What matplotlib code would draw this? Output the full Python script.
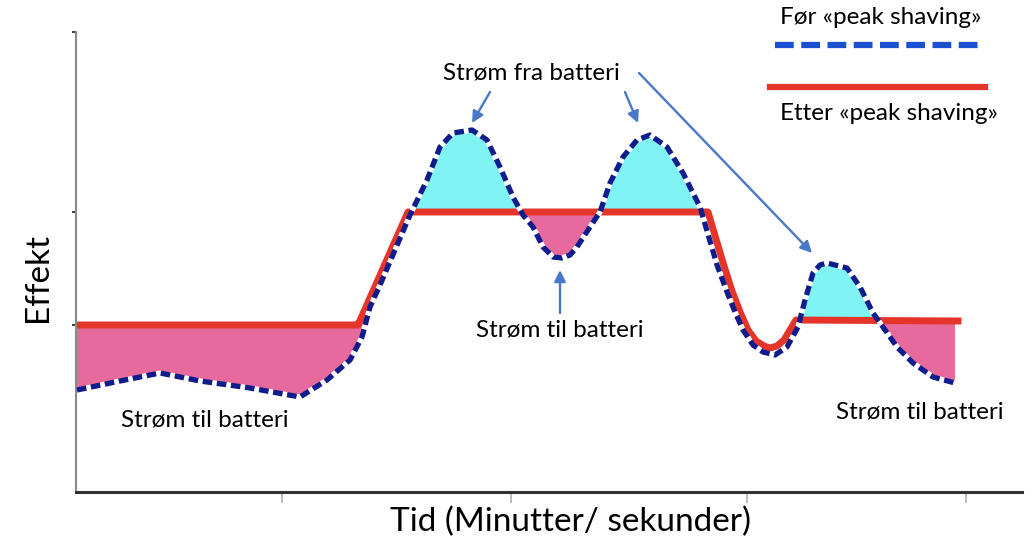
import numpy as np
import matplotlib
matplotlib.use("Agg")
import matplotlib.pyplot as plt
from matplotlib.lines import Line2D

plt.rcParams['font.family'] = ['Lato', 'DejaVu Sans']

# Effekt-kurver lest av bildet (x: tid, y: effekt, vilkaarlige enheter)
x_foer = [77, 120, 160, 200, 250, 300, 327, 350, 362, 370, 380, 395, 410, 427, 440, 453,
          472, 487, 500, 513, 523, 533, 543, 553, 562, 570, 577, 590, 600, 610, 623, 637,
          650, 667, 683, 700, 717, 727, 735, 743, 753, 763, 775, 787, 798, 805, 813, 820,
          827, 847, 860, 873, 883, 897, 913, 933, 955]
y_foer = [102, 111, 119, 111, 104, 95, 112, 132, 155, 185, 207, 242, 277, 312, 345, 359,
          362, 352, 325, 295, 277, 265, 245, 235, 234, 237, 245, 265, 280, 309, 335, 352,
          357, 345, 319, 285, 227, 200, 180, 162, 147, 140, 137, 145, 165, 192, 219, 227,
          229, 224, 205, 179, 165, 145, 129, 115, 109]

x_etter = [76, 358, 408, 708, 716, 724, 732, 740, 748, 756, 764, 770, 777, 784, 790, 796, 958]
y_etter = [167, 167, 280, 280, 253, 226, 201, 180, 162, 151, 146, 144, 146, 152, 162, 172, 171]

# perioder der batteriet lades (rosa felt)
lade_perioder = [(76, 366), (518, 600), (878, 960)]

x_ticks = [282, 511, 747, 966]
y_ticks = [167, 280, 460]

fig = plt.figure(figsize=(10.35, 5.41), dpi=100)
ax = fig.add_axes([76 / 1035, 49 / 541, (1022 - 76) / 1035, 460 / 541])
ax.set_xlim(76, 1022)
ax.set_ylim(0, 460)

xf = np.array(x_foer, dtype=float)
yf = np.array(y_foer, dtype=float)
ye = np.interp(xf, x_etter, y_etter)

lader = np.zeros_like(xf, dtype=bool)
for a, b in lade_perioder:
    lader |= (xf >= a) & (xf <= b)

ax.fill_between(xf, yf, ye, where=yf > ye, color='#80f4f4', interpolate=True, lw=0, zorder=1)
ax.fill_between(xf, yf, ye, where=(yf < ye) & lader, color='#e8699b', interpolate=True, lw=0, zorder=1)

ax.plot(x_etter, y_etter, color='#e5352a', lw=5, solid_joinstyle='round', zorder=2)
ax.plot(xf, yf, color='#0f1c8c', lw=3.8, linestyle=(0, (1.8, 0.9)), gapcolor='white',
        dash_capstyle='butt', zorder=3)

for s in ['top', 'right']:
    ax.spines[s].set_visible(False)
ax.spines['left'].set_color('#8a8a8a')
ax.spines['left'].set_linewidth(1.5)
ax.spines['bottom'].set_color('#333333')
ax.spines['bottom'].set_linewidth(2.2)
ax.set_xticks(x_ticks)
ax.set_yticks(y_ticks)
ax.set_xticklabels([])
ax.set_yticklabels([])
ax.tick_params(axis='x', length=8, width=1.2, color='#b0b0b0', direction='out')
ax.tick_params(axis='y', length=3, width=1.5, color='#444444', direction='out')

ax.set_xlabel('Tid (Minutter/ sekunder)', fontsize=24, va='center')
ax.xaxis.set_label_coords((570 - 76) / 946, -30 / 460)
ax.set_ylabel('Effekt', fontsize=24, va='center')
ax.yaxis.set_label_coords(-38 / 946, (492 - 277) / 460)

pil = dict(arrowstyle='-|>', color='#4a78c8', lw=1.7, mutation_scale=17, shrinkA=0, shrinkB=0)
fs = 17.5
ax.text(531, 492 - 73, 'Strøm fra batteri', ha='center', va='center', fontsize=fs)
ax.annotate('', xy=(472, 492 - 123), xytext=(490, 492 - 92), arrowprops=pil)
ax.annotate('', xy=(638, 492 - 123), xytext=(625, 492 - 92), arrowprops=pil)
ax.annotate('', xy=(812, 492 - 253), xytext=(639, 492 - 73), arrowprops=pil)

ax.text(560, 492 - 330, 'Strøm til batteri', ha='center', va='center', fontsize=fs)
ax.annotate('', xy=(560, 492 - 270), xytext=(560, 492 - 313), arrowprops=pil)
ax.text(205, 492 - 420, 'Strøm til batteri', ha='center', va='center', fontsize=fs)
ax.text(920, 492 - 412, 'Strøm til batteri', ha='center', va='center', fontsize=fs)

# forklaring (tegnet manuelt som i originalen)
W, H = 1035, 541
fig.text(780 / W, 1 - 18 / H, 'Før «peak shaving»', ha='left', va='center', fontsize=fs)
fig.add_artist(Line2D([775 / W, 985 / W], [1 - 45 / H, 1 - 45 / H], color='#1a4fd0', lw=4.5,
                      linestyle=(0, (3.0, 1.2)), transform=fig.transFigure))
fig.add_artist(Line2D([770 / W, 985 / W], [1 - 87 / H, 1 - 87 / H], color='#e5352a', lw=4.5,
                      transform=fig.transFigure))
fig.text(780 / W, 1 - 113 / H, 'Etter «peak shaving»', ha='left', va='center', fontsize=fs)

fig.savefig('out.png', dpi=100)
